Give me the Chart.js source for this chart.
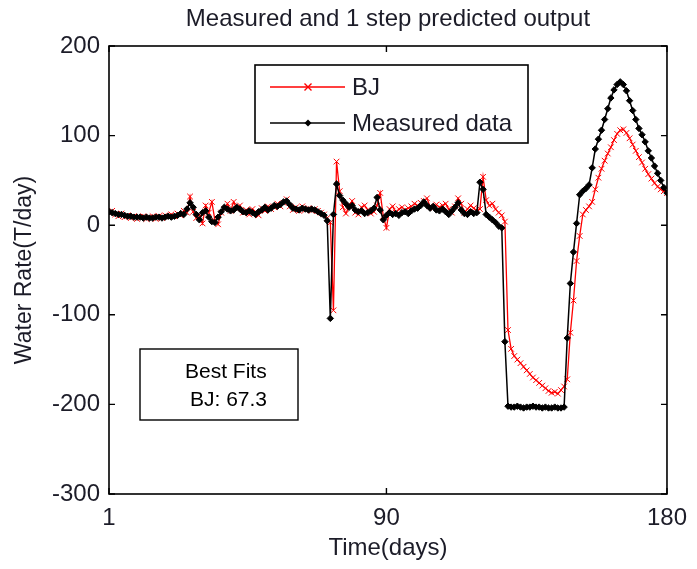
<!DOCTYPE html>
<html>
<head>
<meta charset="utf-8">
<script src="https://cdn.jsdelivr.net/npm/chart.js@4/dist/chart.umd.min.js"></script>
<style>
  html, body { margin: 0; padding: 0; background: #fff; }
  #wrap { width: 697px; height: 569px; }
</style>
</head>
<body>
<div id="wrap"><canvas id="c" width="697" height="569"></canvas></div>
<script>
// Daily water rate (T/day): measured vs. one-step-ahead Box-Jenkins prediction
const days = Array.from({ length: 180 }, (_, i) => i + 1);

const measured = [
  15, 14, 13, 12, 12, 11, 10, 10, 9, 9,
  9, 8, 9, 8, 8, 9, 9, 8, 9, 10,
  9, 10, 11, 13, 12, 18, 25, 20, 12, 6,
  14, 16, 9, 4, 3, 9, 15, 20, 18, 16,
  17, 20, 18, 15, 14, 16, 14, 12, 15, 17,
  20, 17, 19, 22, 21, 23, 26, 27, 23, 19,
  18, 17, 19, 18, 17, 18, 17, 15, 13, 11,
  5, -104, 12, 46, 33, 28, 24, 20, 22, 17,
  15, 16, 13, 14, 16, 19, 31, 17, 6, 11,
  14, 12, 13, 11, 14, 15, 13, 16, 18, 19,
  22, 26, 22, 19, 21, 17, 16, 18, 15, 12,
  16, 20, 25, 17, 13, 12, 15, 13, 14, 48,
  40, 12, 9, 6, 3, -1, -3, -130, -202, -203,
  -203, -202, -203, -204, -203, -203, -202, -203, -203, -204,
  -203, -204, -204, -203, -204, -204, -203, -126, -65, -30,
  2, 34, 38, 41, 45, 64, 85, 96, 106, 118,
  130, 142, 151, 157, 160, 157, 150, 139, 128, 118,
  108, 101, 93, 83, 75, 66, 58, 50, 42, 36
];

const bjPredicted = [
  14, 16, 12, 10, 13, 9, 11, 8, 10, 7,
  9, 10, 7, 9, 10, 7, 10, 8, 11, 9,
  12, 10, 13, 11, 16, 14, 32, 15, 8, 12,
  2, 22, 14, 26, 5, 1, 14, 18, 24, 16,
  26, 18, 22, 14, 17, 12, 18, 15, 11, 19,
  16, 21, 18, 20, 24, 21, 25, 29, 21, 17,
  20, 16, 21, 17, 19, 16, 18, 16, 14, 12,
  8, 3, -95, 71, 38, 20, 13, 21, 27, 14,
  12, 20, 22, 17, 13, 15, 22, 36, 10, -3,
  18, 21, 14, 18, 20, 17, 19, 21, 24, 22,
  25, 27, 30, 21, 19, 23, 20, 22, 24, 18,
  14, 21, 30, 24, 14, 18, 22, 19, 16, 18,
  54, 28, 22, 24, 18, 14, 11, 4, -117, -138,
  -146, -150, -154, -158, -162, -166, -170, -173, -176, -179,
  -182, -185, -187, -186, -188, -184, -180, -172, -120, -84,
  -40, -12, 12, 17, 21, 26, 40, 53, 63, 72,
  80, 87, 95, 102, 106, 107, 103, 97, 90, 83,
  76, 70, 63, 57, 52, 47, 43, 40, 38, 36
];

const xTicks = [1, 90, 180];
const yTicks = [-300, -200, -100, 0, 100, 200];
const seriesNames = ['BJ', 'Measured data'];
const fitLines = ['Best Fits', 'BJ: 67.3'];

const FONT = '"Liberation Sans", Arial, Helvetica, sans-serif';
const TEXT = '#1c1c28';

function toPoints(values) {
  return days.map((d, i) => ({ x: d, y: values[i] }));
}

function drawCross(ctx, x, y, r) {
  ctx.beginPath();
  ctx.moveTo(x - r, y - r); ctx.lineTo(x + r, y + r);
  ctx.moveTo(x - r, y + r); ctx.lineTo(x + r, y - r);
  ctx.stroke();
}
function drawDiamond(ctx, x, y, r) {
  ctx.beginPath();
  ctx.moveTo(x, y - r); ctx.lineTo(x + r, y);
  ctx.lineTo(x, y + r); ctx.lineTo(x - r, y);
  ctx.closePath();
  ctx.fill();
}

// Box around the axes with inward tick marks on all four sides
const framePlugin = {
  id: 'frame',
  afterDatasetsDraw(chart) {
    const { ctx, chartArea: a, scales: { x, y } } = chart;
    ctx.save();
    ctx.strokeStyle = '#000';
    ctx.lineWidth = 1.6;
    ctx.strokeRect(a.left, a.top, a.right - a.left, a.bottom - a.top);
    ctx.lineWidth = 1.4;
    const tl = 6;
    ctx.beginPath();
    yTicks.forEach(v => {
      const py = y.getPixelForValue(v);
      ctx.moveTo(a.left, py); ctx.lineTo(a.left + tl, py);
      ctx.moveTo(a.right, py); ctx.lineTo(a.right - tl, py);
    });
    xTicks.forEach(v => {
      const px = x.getPixelForValue(v);
      ctx.moveTo(px, a.bottom); ctx.lineTo(px, a.bottom - tl);
      ctx.moveTo(px, a.top); ctx.lineTo(px, a.top + tl);
    });
    ctx.stroke();
    ctx.restore();
  }
};

// Legend box and fit-summary box drawn over the plot
const annotationPlugin = {
  id: 'boxes',
  afterDraw(chart) {
    const { ctx } = chart;
    ctx.save();
    // legend
    const lx = 255, ly = 65, lw = 273, lh = 78;
    ctx.fillStyle = '#fff';
    ctx.fillRect(lx, ly, lw, lh);
    ctx.strokeStyle = '#000';
    ctx.lineWidth = 1.6;
    ctx.strokeRect(lx, ly, lw, lh);
    const rows = [
      { y: 87, color: '#ff0000', mark: 'cross', name: seriesNames[0] },
      { y: 123, color: '#000000', mark: 'diamond', name: seriesNames[1] }
    ];
    rows.forEach(r => {
      ctx.strokeStyle = r.color;
      ctx.fillStyle = r.color;
      ctx.lineWidth = 1.4;
      ctx.beginPath();
      ctx.moveTo(270, r.y); ctx.lineTo(345, r.y);
      ctx.stroke();
      if (r.mark === 'cross') drawCross(ctx, 308, r.y, 3.5);
      else drawDiamond(ctx, 308, r.y, 3.5);
      ctx.fillStyle = TEXT;
      ctx.font = '24px ' + FONT;
      ctx.textBaseline = 'middle';
      ctx.textAlign = 'left';
      ctx.fillText(r.name, 352, r.y + 1);
    });
    // best fit summary
    ctx.fillStyle = '#fff';
    ctx.fillRect(140, 349, 158, 71);
    ctx.strokeStyle = '#000';
    ctx.lineWidth = 1.4;
    ctx.strokeRect(140, 349, 158, 71);
    ctx.fillStyle = '#000';
    ctx.font = '21px ' + FONT;
    ctx.textBaseline = 'middle';
    ctx.textAlign = 'left';
    ctx.fillText(fitLines[0], 185, 372);
    ctx.fillText(fitLines[1], 190, 400);
    ctx.restore();
  }
};

new Chart(document.getElementById('c'), {
  type: 'line',
  data: {
    datasets: [
      {
        label: seriesNames[1],
        data: toPoints(measured),
        borderColor: '#000',
        backgroundColor: '#000',
        borderWidth: 1.5,
        pointStyle: 'rectRot',
        pointRadius: 3.2,
        pointBorderWidth: 1,
        tension: 0
      },
      {
        label: seriesNames[0],
        data: toPoints(bjPredicted),
        borderColor: '#ff0000',
        backgroundColor: '#ff0000',
        borderWidth: 1.3,
        pointStyle: 'crossRot',
        pointRadius: 4,
        pointBorderWidth: 1,
        tension: 0
      }
    ]
  },
  options: {
    responsive: false,
    animation: false,
    events: [],
    layout: { padding: { left: 0, right: 23, top: 0, bottom: 0 } },
    plugins: {
      legend: { display: false },
      tooltip: { enabled: false },
      title: {
        display: true,
        fullSize: false,
        text: 'Measured and 1 step predicted output',
        color: TEXT,
        font: { family: FONT, size: 24, weight: 'normal', lineHeight: 1.2 },
        padding: { top: 5, bottom: 12.2 }
      }
    },
    scales: {
      x: {
        type: 'linear',
        min: 1,
        max: 180,
        afterBuildTicks: s => { s.ticks = xTicks.map(v => ({ value: v })); },
        afterFit: s => { s.height = 75; },
        grid: { display: false, drawTicks: false },
        border: { display: false },
        ticks: {
          color: TEXT,
          padding: 10,
          maxRotation: 0,
          autoSkip: false,
          font: { family: FONT, size: 24 }
        },
        title: {
          display: true,
          text: 'Time(days)',
          color: TEXT,
          font: { family: FONT, size: 24, lineHeight: 1.2 },
          padding: { top: 0, bottom: 6 }
        }
      },
      y: {
        type: 'linear',
        min: -300,
        max: 200,
        afterBuildTicks: s => { s.ticks = yTicks.map(v => ({ value: v })); },
        afterFit: s => { s.width = 109; },
        grid: { display: false, drawTicks: false },
        border: { display: false },
        ticks: {
          color: TEXT,
          padding: 9,
          font: { family: FONT, size: 24 }
        },
        title: {
          display: true,
          text: 'Water Rate(T/day)',
          color: TEXT,
          font: { family: FONT, size: 23, lineHeight: 1.2 },
          padding: { top: 11, bottom: 0 }
        }
      }
    }
  },
  plugins: [framePlugin, annotationPlugin]
});
</script>
</body>
</html>
